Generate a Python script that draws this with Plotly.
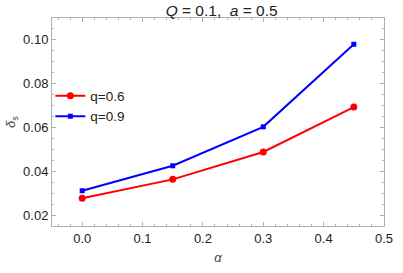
import plotly.graph_objects as go

alpha = [0.0, 0.15, 0.3, 0.45]
q06 = [0.0277, 0.0363, 0.0488, 0.0693]
q09 = [0.0311, 0.0425, 0.0603, 0.0980]
xticks = [0.0, 0.1, 0.2, 0.3, 0.4, 0.5]
xticklabels = ["0.0", "0.1", "0.2", "0.3", "0.4", "0.5"]
yticks = [0.02, 0.04, 0.06, 0.08, 0.10]
yticklabels = ["0.02", "0.04", "0.06", "0.08", "0.10"]

FONT = "Liberation Sans, Arial"

fig = go.Figure()
fig.add_trace(go.Scatter(x=alpha, y=q06, mode="lines+markers", name="q=0.6",
                         line=dict(color="#ff0000", width=2),
                         marker=dict(symbol="circle", size=7, color="#ff0000")))
fig.add_trace(go.Scatter(x=alpha, y=q09, mode="lines+markers", name="q=0.9",
                         line=dict(color="#0000ff", width=2),
                         marker=dict(symbol="square", size=5, color="#0000ff")))

axis_common = dict(showgrid=False, zeroline=False, showline=True, linecolor="#b0b0b0",
                   linewidth=1, mirror="ticks", ticks="inside", ticklen=4,
                   tickcolor="#b0b0b0", ticklabeloverflow="allow",
                   tickfont=dict(family=FONT, size=13, color="#222"))

fig.update_xaxes(range=[-0.05, 0.5], tickvals=xticks, ticktext=xticklabels,
                 minor=dict(ticks="inside", ticklen=2, tickcolor="#b0b0b0", dtick=0.02),
                 title=dict(text="<i>α</i>", font=dict(family=FONT, size=13, color="#444"), standoff=8),
                 **axis_common)
fig.update_yaxes(range=[0.015, 0.11], tickvals=yticks, ticktext=yticklabels,
                 minor=dict(ticks="inside", ticklen=2, tickcolor="#b0b0b0", dtick=0.005),
                 title=dict(text="<i>δ</i><sub>s</sub>", font=dict(family=FONT, size=13, color="#444"), standoff=4),
                 **axis_common)

fig.update_layout(
    width=403, height=273,
    margin=dict(l=51, r=10, t=18, b=42),
    paper_bgcolor="white", plot_bgcolor="white",
    title=dict(text="<i>Q</i> = 0.1,  <i>a</i> = 0.5", x=0.55, xanchor="center", y=0.962, yanchor="middle",
               font=dict(family=FONT, size=15.5, color="#222")),
    showlegend=True,
    legend=dict(x=-0.005, y=0.70, xanchor="left", yanchor="top", bgcolor="rgba(0,0,0,0)",
                font=dict(family=FONT, size=13.5, color="#222"),
                itemwidth=30, tracegroupgap=2),
)

fig.write_html("out.html", config={"displayModeBar": False},
               post_script="document.body.style.margin='0';")
